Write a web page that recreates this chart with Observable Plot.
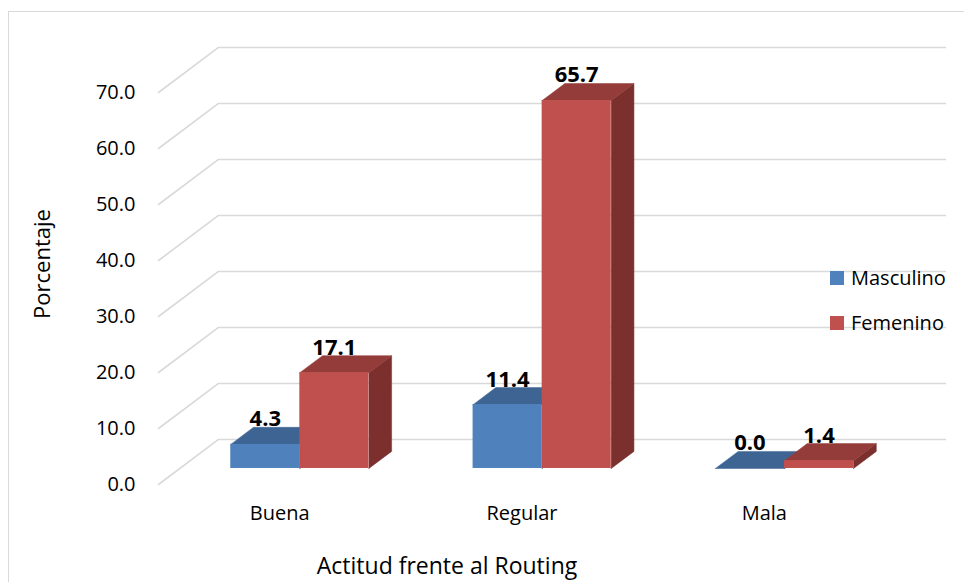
<!DOCTYPE html>
<html>
<head>
<meta charset="utf-8">
<script src="https://cdn.jsdelivr.net/npm/d3@7"></script>
<script src="https://cdn.jsdelivr.net/npm/@observablehq/plot@0.6"></script>
<style>
  html, body { margin: 0; padding: 0; background: #fff; }
  #wrap { position: relative; width: 964px; height: 582px; overflow: hidden; font-family: "Open Sans", sans-serif; color: #000; }
  #frame { position: absolute; left: 8px; top: 11px; width: 1200px; height: 1200px; border: 1px solid #d9d9d9; box-sizing: border-box; }
  #plot { position: absolute; left: 0; top: 0; }
  .t { position: absolute; line-height: 1; white-space: nowrap; }
  .sw { position: absolute; width: 14px; height: 14px; }
</style>
</head>
<body>
<div id="wrap">
  <div id="frame"></div>
  <div id="plot"></div>
</div>
<script>
// ---- data ----
const categories = ["Buena", "Regular", "Mala"];
const series = ["Masculino", "Femenino"];
const masculino = [4.3, 11.4, 0.0];
const femenino = [17.1, 65.7, 1.4];
const yTicks = [0, 10, 20, 30, 40, 50, 60, 70];
const xTitle = "Actitud frente al Routing";
const yTitle = "Porcentaje";

// ---- styles ----
const palette = {
  Masculino: { front: "#4F81BD", top: "#3D6493", side: "#35587F" },
  Femenino:  { front: "#C0504D", top: "#943C3A", side: "#7B302E" }
};

// oblique projection of the depth axis (in data units)
const KX = 0.2476, KY = 8.04;
const D0 = 0.356, D1 = 0.735;   // bar front / back depth
const GAP = 0.21, BW = 0.285;   // bar offset and width within a category
const P = (x, v, t) => ({ x: x + t * KX, y: v + t * KY });

const values = { Masculino: masculino, Femenino: femenino };
const bars = [];
categories.forEach((c, i) => {
  series.forEach((s, j) => {
    bars.push({ c, s, v: values[s][i], x1: i + GAP + j * BW, x2: i + GAP + (j + 1) * BW });
  });
});

const faces = [];
bars.forEach((b, k) => {
  const col = palette[b.s];
  const add = (name, pts, fill) => pts.forEach(p => faces.push({ id: k + "-" + name, fill, ...p }));
  add("side", [P(b.x2, 0, D0), P(b.x2, b.v, D0), P(b.x2, b.v, D1), P(b.x2, 0, D1), P(b.x2, 0, D0)], col.side);
  add("top", [P(b.x1, b.v, D0), P(b.x2, b.v, D0), P(b.x2, b.v, D1), P(b.x1, b.v, D1), P(b.x1, b.v, D0)], col.top);
});

const fronts = bars.map(b => ({
  ...b,
  fx1: b.x1 + D0 * KX, fx2: b.x2 + D0 * KX,
  fy1: D0 * KY, fy2: b.v + D0 * KY,
  fill: palette[b.s].front
}));

const grid = yTicks.flatMap(v => [P(0, v, 0), P(0, v, 1), P(categories.length, v, 1)].map(p => ({ ...p, v })));

const chart = Plot.plot({
  width: 964,
  height: 582,
  marginLeft: 158,
  marginRight: 19,
  marginTop: 36,
  marginBottom: 98,
  style: { fontFamily: "Open Sans", fontSize: "20px", color: "#000", background: "transparent", overflow: "visible" },
  x: { domain: [0, categories.length + KX] },
  y: { domain: [0, 80] },
  color: { type: "identity" },
  marks: [
    Plot.line(grid, { x: "x", y: "y", z: "v", stroke: "#d9d9d9", strokeWidth: 1.6 }),
    Plot.line(faces, { x: "x", y: "y", z: "id", fill: "fill", stroke: "fill", strokeWidth: 0.5 }),
    Plot.rect(fronts, { x1: "fx1", x2: "fx2", y1: "fy1", y2: "fy2", fill: "fill" }),
    Plot.text(bars, {
      x: b => (b.x1 + b.x2) / 2 + D0 * KX,
      y: b => b.v + D1 * KY,
      text: b => b.v.toFixed(1),
      lineAnchor: "bottom", dy: -1,
      fontWeight: "bold", fontSize: 22, fill: "#000"
    }),
    Plot.axisY(yTicks, { anchor: "left", tickSize: 0, tickPadding: 23, tickFormat: d => d.toFixed(1), fontSize: 20, label: null, fill: "#000" }),
    Plot.axisX(categories.map((c, i) => i + 0.5), { anchor: "bottom", tickSize: 0, tickPadding: 21, tickFormat: d => categories[Math.floor(d)], fontSize: 20, label: null, fill: "#000" })
  ]
});
document.getElementById("plot").appendChild(chart);

// ---- titles and legend (HTML text) ----
const wrap = document.getElementById("wrap");
function addText(txt, css) {
  const d = document.createElement("div");
  d.className = "t";
  d.textContent = txt;
  Object.assign(d.style, css);
  wrap.appendChild(d);
  return d;
}
addText(xTitle, { left: "447px", top: "554px", fontSize: "23px", transform: "translateX(-50%)" });
addText(yTitle, { left: "41px", top: "264px", fontSize: "22px", transform: "translate(-50%,-50%) rotate(-90deg)" });

series.forEach((s, j) => {
  const sw = document.createElement("div");
  sw.className = "sw";
  sw.style.left = "830px";
  sw.style.top = (271 + j * 45) + "px";
  sw.style.background = palette[s].front;
  wrap.appendChild(sw);
  addText(s, { left: "851px", top: (268 + j * 45) + "px", fontSize: "20px" });
});
</script>
</body>
</html>
